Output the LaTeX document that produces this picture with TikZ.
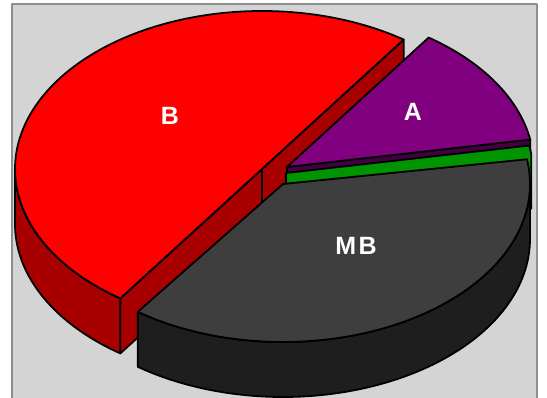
\documentclass[tikz,border=0pt]{standalone}
\usepackage{fontspec}
\setmainfont{Liberation Sans}
\definecolor{bgc}{HTML}{D4D4D4}
\definecolor{framec}{HTML}{8E8E8E}
\definecolor{redtop}{HTML}{FF0000}
\definecolor{redside}{HTML}{A80000}
\definecolor{purtop}{HTML}{800080}
\definecolor{purside}{HTML}{420042}
\definecolor{grn}{HTML}{009400}
\definecolor{mbtop}{HTML}{3E3E3E}
\definecolor{mbside}{HTML}{1E1E1E}
\begin{document}
\begin{tikzpicture}[x=1pt,y=-1pt,line join=round,
  edge/.style={draw=black,line width=1.8pt},
  lbl/.style={text=white,font=\fontsize{25}{25}\selectfont\bfseries,inner sep=0pt}]
\useasboundingbox (0,0) rectangle (547,398);
\clip (0,0) rectangle (547,398);
\fill[white] (0,0) rectangle (547,398);
\filldraw[fill=bgc,draw=framec,line width=2.6pt] (11.8,4) rectangle (537,430);
% ---- B (red), centre (262,169), 125..305
\filldraw[fill=redside,edge] ({262+247*cos(305)},{169+158*sin(305)}) -- ({262+247*cos(125)},{169+158*sin(125)}) -- ({262+247*cos(125)},{224+158*sin(125)}) -- ({262+247*cos(305)},{224+158*sin(305)}) -- cycle;
\draw[edge] (262,169) -- (262,224);
\filldraw[fill=redside,edge] plot[domain=125:180,samples=40] ({262+247*cos(\x)},{169+158*sin(\x)}) -- plot[domain=180:125,samples=40] ({262+247*cos(\x)},{224+158*sin(\x)}) -- cycle;
\filldraw[fill=redtop,edge] (262,169) -- plot[domain=125:305,samples=120] ({262+247*cos(\x)},{169+158*sin(\x)}) -- cycle;
% ---- A (purple), centre (287,167), 305..350
\filldraw[fill=purside,edge] (287,167) -- ({287+247*cos(350)},{167+158*sin(350)}) -- ({287+247*cos(350)},{222+158*sin(350)}) -- (287,222) -- cycle;
\filldraw[fill=purtop,edge] (287,167) -- plot[domain=305:350,samples=40] ({287+247*cos(\x)},{167+158*sin(\x)}) -- cycle;
% ---- green, centre (286,173), 350..353
\filldraw[fill=grn,edge] (286,173) -- plot[domain=350:353,samples=6] ({286+247*cos(\x)},{173+158*sin(\x)}) -- ({286+247*cos(353)},{228+158*sin(353)}) -- (286,228) -- cycle;
% ---- MB (dark grey), centre (283,184), 351..486
\filldraw[fill=mbside,edge] plot[domain=0:126,samples=80] ({283+247*cos(\x)},{184+158*sin(\x)}) -- plot[domain=126:0,samples=80] ({283+247*cos(\x)},{239+158*sin(\x)}) -- cycle;
\filldraw[fill=mbtop,edge] (283,184) -- plot[domain=351:486,samples=100] ({283+247*cos(\x)},{184+158*sin(\x)}) -- cycle;
% ---- labels
\node[lbl] (lB) at (170,116) {B};
\node[lbl] (lA) at (413,112) {A};
\node[lbl] (lMB) at (356,246) {M\kern2.5pt B};
\end{tikzpicture}
\end{document}
